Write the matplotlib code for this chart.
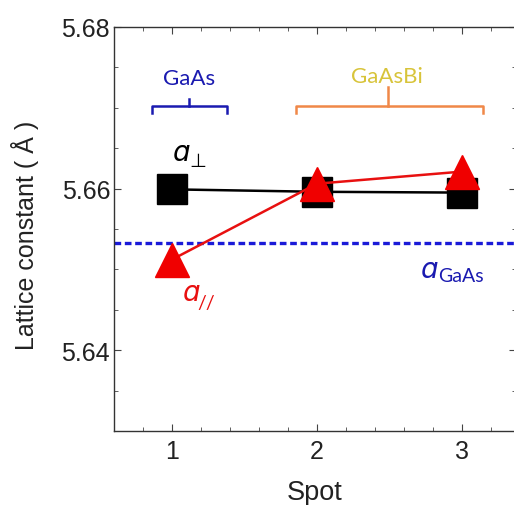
import matplotlib
matplotlib.use("Agg")
import matplotlib.pyplot as plt
from matplotlib.ticker import MultipleLocator

spots = [1, 2, 3]
a_perp = [5.6599, 5.6596, 5.6595]
a_par = [5.6512, 5.6606, 5.6621]
a_gaas = 5.6533
xticks = [1, 2, 3]
yticks = [5.64, 5.66, 5.68]

plt.rcParams['font.family'] = ['Liberation Sans', 'DejaVu Sans']

fig = plt.figure(figsize=(5.14, 5.06), dpi=100)
ax = fig.add_axes([0.221, 0.146, 0.783, 0.799])

ax.axhline(a_gaas, color='#1a1ad8', lw=2.4, ls=(0, (2.0, 1.1)), zorder=1)
ax.plot(spots, a_perp, color='black', lw=1.8, marker='s', ms=21,
        markerfacecolor='black', markeredgecolor='black', zorder=2)
ax.plot(spots, a_par, color='#e81010', lw=1.8, marker='^', ms=25,
        markerfacecolor='#f00000', markeredgecolor='#f00000', zorder=3)

ax.set_xlim(0.6, 3.37)
ax.set_ylim(5.63, 5.68)
ax.set_xticks(xticks)
ax.set_yticks(yticks)
ax.set_yticklabels([f"{v:.2f}" for v in yticks])
ax.xaxis.set_minor_locator(MultipleLocator(0.2))
ax.yaxis.set_minor_locator(MultipleLocator(0.005))
ax.tick_params(which='both', direction='in', top=True, right=True,
               labelsize=18, color='#444444', labelcolor='#222222')
ax.tick_params(which='major', length=5)
ax.tick_params(which='minor', length=3)
ax.tick_params(axis='y', which='major', pad=2.5)
ax.tick_params(axis='x', which='major', pad=6)
for s in ax.spines.values():
    s.set_color('#333333')
    s.set_linewidth(1.0)

ax.set_xlabel('Spot', fontsize=19.5, labelpad=11, color='#222222')
ax.set_ylabel('Lattice constant ( Å )', fontsize=18, labelpad=16,
              color='#222222')
ax.yaxis.label.set_y(0.487)

# brackets
blue = '#1a1ab0'
orange = '#f08848'
ax.plot([0.862, 0.862, 1.379, 1.379], [5.6694, 5.6702, 5.6702, 5.6694],
        color=blue, lw=1.8)
ax.plot([1.12, 1.12], [5.6702, 5.6711], color=blue, lw=1.8)
ax.plot([1.855, 1.855, 3.145, 3.145], [5.6694, 5.6702, 5.6702, 5.6694],
        color=orange, lw=1.8)
ax.plot([2.49, 2.49], [5.6702, 5.6725], color=orange, lw=1.8)

ann = ['Lato', 'DejaVu Sans']
ax.text(1.12, 5.6737, 'GaAs', color=blue, fontsize=16, ha='center',
        va='center', family=ann)
ax.text(2.48, 5.6739, 'GaAsBi', color='#d8c43a', fontsize=16,
        ha='center', va='center', family=ann)


def sym(x, y, sub, color, subsize, dx, dy):
    ax.text(x, y, 'ɑ', color=color, fontsize=20, style='italic',
            ha='left', va='baseline', family=['DejaVu Sans'])
    ax.annotate(sub, xy=(x, y), xytext=(dx, dy), textcoords='offset points',
                color=color, fontsize=subsize, ha='left', va='baseline',
                family=ann)


sym(1.0, 5.6635, '⊥', 'black', 14, 13, -4)
sym(1.07, 5.6462, '//', '#e81010', 14, 11, -6)
sym(2.71, 5.6491, 'GaAs', blue, 14, 13, -3)

fig.savefig('out.png', dpi=100)
